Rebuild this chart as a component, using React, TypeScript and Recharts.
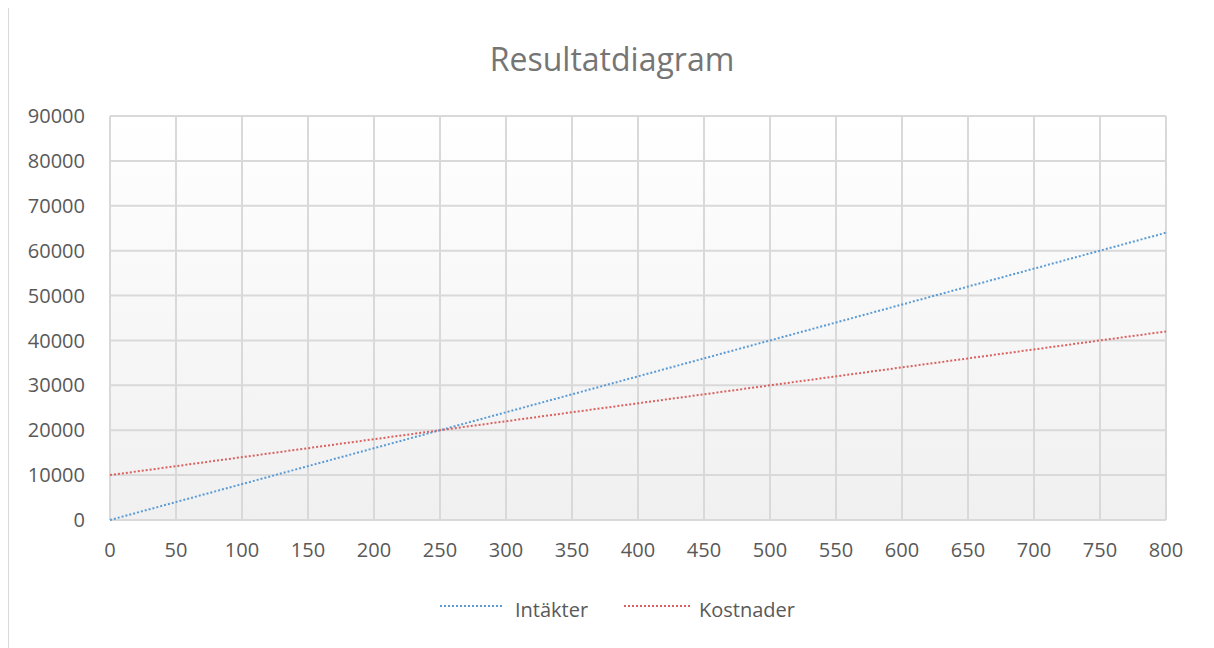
import React from "react";
import { LineChart, Line, XAxis, YAxis, CartesianGrid } from "recharts";

const title = "Resultatdiagram";
const xValues = [0, 50, 100, 150, 200, 250, 300, 350, 400, 450, 500, 550, 600, 650, 700, 750, 800];
const intakter = [0, 4000, 8000, 12000, 16000, 20000, 24000, 28000, 32000, 36000, 40000, 44000, 48000, 52000, 56000, 60000, 64000];
const kostnader = [10000, 12000, 14000, 16000, 18000, 20000, 22000, 24000, 26000, 28000, 30000, 32000, 34000, 36000, 38000, 40000, 42000];
const yTicks = [0, 10000, 20000, 30000, 40000, 50000, 60000, 70000, 80000, 90000];
const seriesNames = ["Intäkter", "Kostnader"];
const seriesColors = ["#5b9bd5", "#d9625f"];

const data = xValues.map((x, i) => ({ x, a: intakter[i], b: kostnader[i] }));

const FONT = "'Open Sans', sans-serif";
const TEXT = "#595959";

export default function App() {
  return (
    <div
      style={{
        position: "relative",
        width: 1205,
        height: 640,
        marginTop: -1,
        borderTop: "1px solid #d9d9d9",
        borderLeft: "1px solid #d9d9d9",
        background: "#fff",
        overflow: "hidden",
        fontFamily: FONT,
      }}
    >
      <LineChart
        width={1205}
        height={640}
        data={data}
        margin={{ top: 108, right: 48, left: 0, bottom: 78 }}
      >
        <defs>
          <linearGradient id="plotBg" x1="0" y1="0" x2="0" y2="1">
            <stop offset="0%" stopColor="#ffffff" />
            <stop offset="100%" stopColor="#f0f0f0" />
          </linearGradient>
        </defs>
        <CartesianGrid
          stroke="#d9d9d9"
          strokeWidth={2}
          fill="url(#plotBg)"
          fillOpacity={1}
        />
        <XAxis
          dataKey="x"
          type="number"
          domain={[0, 800]}
          ticks={xValues}
          interval={0}
          axisLine={false}
          tickLine={false}
          tickSize={0}
          tickMargin={23}
          height={50}
          tick={{ fill: TEXT, fontSize: 20, fontFamily: FONT }}
        />
        <YAxis
          type="number"
          domain={[0, 90000]}
          ticks={yTicks}
          interval={0}
          axisLine={false}
          tickLine={false}
          tickSize={0}
          tickMargin={25}
          width={101}
          tick={{ fill: TEXT, fontSize: 20, fontFamily: FONT }}
        />
        <Line
          dataKey="a"
          name={seriesNames[0]}
          stroke={seriesColors[0]}
          strokeWidth={2}
          strokeDasharray="2 2"
          dot={false}
          activeDot={false}
          isAnimationActive={false}
        />
        <Line
          dataKey="b"
          name={seriesNames[1]}
          stroke={seriesColors[1]}
          strokeWidth={2}
          strokeDasharray="2 2"
          dot={false}
          activeDot={false}
          isAnimationActive={false}
        />
      </LineChart>
      <svg
        width={1205}
        height={640}
        style={{ position: "absolute", left: 0, top: 0, pointerEvents: "none" }}
      >
        <text
          x={603}
          y={63}
          textAnchor="middle"
          fontSize={32}
          fill="#757575"
          fontFamily={FONT}
        >
          {title}
        </text>
        <line x1={431} x2={494} y1={598} y2={598} stroke={seriesColors[0]} strokeWidth={2} strokeDasharray="2 2" />
        <text x={506} y={609} fontSize={20} fill={TEXT} fontFamily={FONT}>
          {seriesNames[0]}
        </text>
        <line x1={615} x2={681} y1={598} y2={598} stroke={seriesColors[1]} strokeWidth={2} strokeDasharray="2 2" />
        <text x={690} y={609} fontSize={20} fill={TEXT} fontFamily={FONT}>
          {seriesNames[1]}
        </text>
      </svg>
    </div>
  );
}
